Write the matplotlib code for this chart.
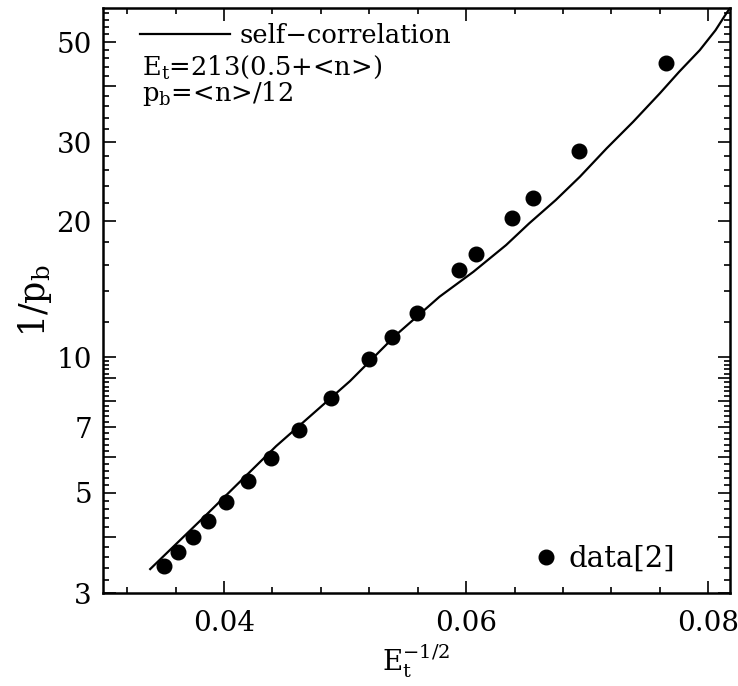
import matplotlib
matplotlib.use("Agg")
import matplotlib.pyplot as plt
import numpy as np
from matplotlib.ticker import FixedLocator, NullFormatter, FixedFormatter
from matplotlib.lines import Line2D

plt.rcParams['font.family'] = 'DejaVu Serif'
plt.rcParams['mathtext.fontset'] = 'dejavuserif'

# measured points, data[2]
data_x = [0.0350, 0.0362, 0.0374, 0.0387, 0.0402, 0.0420, 0.0439, 0.0462, 0.0488,
          0.0520, 0.0539, 0.0559, 0.0594, 0.0608, 0.0638, 0.0655, 0.0693, 0.0765]
data_y = [3.44, 3.70, 4.00, 4.34, 4.77, 5.32, 5.99, 6.89, 8.13,
          9.90, 11.08, 12.55, 15.6, 16.96, 20.4, 22.6, 28.7, 45.0]

# self-correlation curve
curve_x = [0.0339, 0.0386, 0.0443, 0.0504, 0.0542, 0.0578, 0.0606, 0.0633, 0.0652,
           0.0674, 0.0694, 0.0716, 0.0738, 0.0760, 0.0776, 0.0793, 0.0806, 0.0815, 0.0818]
curve_y = [3.39, 4.49, 6.35, 8.85, 11.2, 13.62, 15.47, 17.73, 19.80,
           22.31, 25.14, 29.04, 33.28, 38.47, 42.96, 47.97, 53.1, 57.9, 59.5]

y_labels = [3, 5, 7, 10, 20, 30, 50]
x_labels = [0.04, 0.06, 0.08]

fig = plt.figure(figsize=(7.38, 6.86), dpi=100)
ax = fig.add_axes([103 / 738, 1 - 593 / 686, 627 / 738, 585 / 686])

ax.plot(curve_x, curve_y, color='black', lw=1.6)
ax.plot(data_x, data_y, 'o', color='black', ms=10.5, mec='black')

ax.set_yscale('log')
ax.set_xlim(0.03, 0.0818)
ax.set_ylim(3, 59.5)

ymaj = list(range(3, 10)) + list(range(10, 60, 10))
ymin = list(np.arange(3.2, 10, 0.2)) + list(range(12, 60, 2))
ax.yaxis.set_major_locator(FixedLocator(ymaj))
ax.yaxis.set_minor_locator(FixedLocator(ymin))
ax.yaxis.set_major_formatter(FixedFormatter([str(v) if v in y_labels else '' for v in ymaj]))
ax.yaxis.set_minor_formatter(NullFormatter())

xmaj = [0.04, 0.06, 0.08]
xmin = list(np.arange(0.032, 0.082, 0.004))
ax.xaxis.set_major_locator(FixedLocator(xmaj))
ax.xaxis.set_minor_locator(FixedLocator(xmin))
ax.xaxis.set_major_formatter(FixedFormatter([f'{v:.2f}' for v in x_labels]))

ax.tick_params(which='both', direction='in', top=True, right=True, labelsize=20, width=1.2)
ax.tick_params(which='major', length=9)
ax.tick_params(axis='x', which='major', pad=12)
ax.tick_params(axis='y', which='major', pad=8)
ax.tick_params(which='minor', length=4)
for s in ax.spines.values():
    s.set_linewidth(1.8)

ax.set_xlabel(r'E$_{\rm t}^{-1/2}$', fontsize=20, labelpad=4)
ax.set_ylabel(r'1/p$_{\rm b}$', fontsize=25)
ax.yaxis.set_label_coords(-0.078, 0.5)

leg1 = ax.legend(handles=[Line2D([], [], color='black', lw=1.6)], labels=['self\u2212correlation'],
                 loc='upper left', frameon=False, fontsize=18.5, handlelength=3.5,
                 handletextpad=0.37, borderpad=0, borderaxespad=0,
                 bbox_to_anchor=(0.059, 0.975))
ax.add_artist(leg1)
ax.text(0.0622, 0.899, r'E$_{\rm t}$=213(0.5+<n>)', transform=ax.transAxes, fontsize=18.5, va='center')
ax.text(0.0622, 0.853, r'p$_{\rm b}$=<n>/12', transform=ax.transAxes, fontsize=18.5, va='center')

ax.legend(handles=[Line2D([], [], ls='', marker='o', color='black', ms=10.5)], labels=['data[2]'],
          loc='lower right', frameon=False, fontsize=21, handlelength=0.8, handletextpad=0.35,
          borderpad=0, borderaxespad=0, bbox_to_anchor=(0.912, 0.034))

fig.savefig('out.png', dpi=100)
